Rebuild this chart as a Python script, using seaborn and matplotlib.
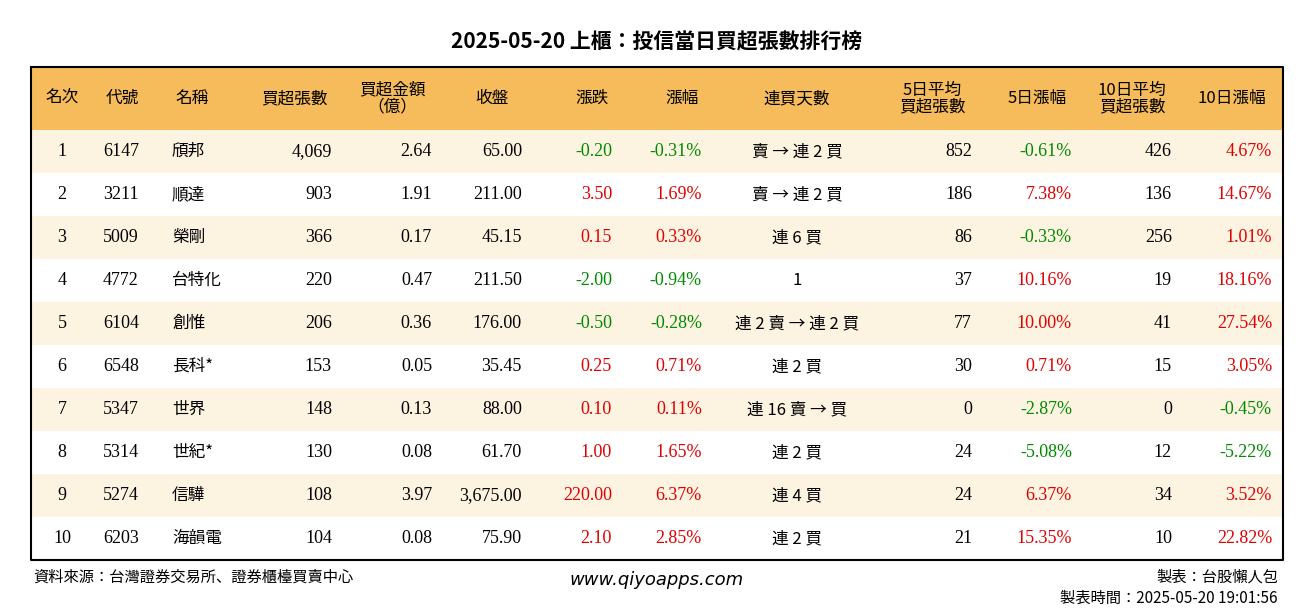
import matplotlib
matplotlib.use("Agg")
import matplotlib.pyplot as plt
import seaborn as sns
import pandas as pd

rank = [1,2,3,4,5,6,7,8,9,10]
code = ["6147","3211","5009","4772","6104","6548","5347","5314","5274","6203"]
name = ["頎邦","順達","榮剛","台特化","創惟","長科*","世界","世紀*","信驊","海韻電"]
net_lots = [4069,903,366,220,206,153,148,130,108,104]
net_amt = [2.64,1.91,0.17,0.47,0.36,0.05,0.13,0.08,3.97,0.08]
close = [65.00,211.00,45.15,211.50,176.00,35.45,88.00,61.70,3675.00,75.90]
chg = [-0.20,3.50,0.15,-2.00,-0.50,0.25,0.10,1.00,220.00,2.10]
pct = [-0.31,1.69,0.33,-0.94,-0.28,0.71,0.11,1.65,6.37,2.85]
streak = ["賣 → 連 2 買","賣 → 連 2 買","連 6 買","1","連 2 賣 → 連 2 買","連 2 買","連 16 賣 → 買","連 2 買","連 4 買","連 2 買"]
avg5 = [852,186,86,37,77,30,0,24,24,21]
pct5 = [-0.61,7.38,-0.33,10.16,10.00,0.71,-2.87,-5.08,6.37,15.35]
avg10 = [426,136,256,19,41,15,0,12,34,10]
pct10 = [4.67,14.67,1.01,18.16,27.54,3.05,-0.45,-5.22,3.52,22.82]
headers = ["名次","代號","名稱","買超張數","買超金額\n（億）","收盤","漲跌","漲幅","連買天數","5日平均\n買超張數","5日漲幅","10日平均\n買超張數","10日漲幅"]

df = pd.DataFrame(dict(rank=rank, code=code, name=name))
sns.set_theme(style="white")
CJK = ["Noto Sans CJK TC", "Noto Sans CJK JP", "Noto Sans CJK SC", "DejaVu Sans"]
NUM = ["Liberation Serif", "Noto Sans CJK TC", "Noto Sans CJK JP"]
RED, GREEN = "#E00000", "#008A00"

fig = plt.figure(figsize=(13.14, 6.12), dpi=100)
ax = fig.add_axes([0, 0, 1, 1])
ax.set_xlim(0, 1314); ax.set_ylim(612, 0); ax.axis("off")

L, R, T, HB = 31, 1283, 67, 130
RH = 43
ax.fill_between([L, R], T, HB, color="#F6BC5C", lw=0)
for i in range(len(df)):
    y0 = HB + i*RH
    ax.fill_between([L, R], y0, y0+RH, color="#FDF3E1" if i % 2 == 0 else "white", lw=0)
bottom = HB + len(df)*RH
ax.plot([L, R, R, L, L], [T, T, bottom, bottom, T], color="black", lw=1.5)

ax.text(657, 42, "2025-05-20 上櫃：投信當日買超張數排行榜", ha="center", va="center",
        fontsize=15, fontfamily=CJK, fontweight="bold", color="black")

cols = [(62,"center"),(103,"left"),(172,"left"),(332,"right"),(432,"right"),(522,"right"),
        (612,"right"),(702,"right"),(797,"center"),(972,"right"),(1072,"right"),(1172,"right"),(1272,"right")]
hx = [62,122,192,294,392,492,592,682,797,932,1037,1132,1232]
for h, cx in zip(headers, hx):
    ax.text(cx, (T+HB)/2, h, ha="center", va="center", fontsize=12, fontfamily=CJK,
            linespacing=0.95, color="black")

def col(v):
    return RED if v > 0 else (GREEN if v < 0 else "black")

for i in range(len(df)):
    yc = HB + i*RH + RH/2
    vals = [(str(rank[i]),"black",NUM),(code[i],"black",NUM),(name[i],"black",CJK),
            (f"{net_lots[i]:,}","black",NUM),(f"{net_amt[i]:.2f}","black",NUM),
            (f"{close[i]:,.2f}","black",NUM),(f"{chg[i]:.2f}",col(chg[i]),NUM),
            (f"{pct[i]:.2f}%",col(pct[i]),NUM),(streak[i],"black",CJK),
            (f"{avg5[i]:,}","black",NUM),(f"{pct5[i]:.2f}%",col(pct5[i]),NUM),
            (f"{avg10[i]:,}","black",NUM),(f"{pct10[i]:.2f}%",col(pct10[i]),NUM)]
    for (x, ha), (t, c, f) in zip(cols, vals):
        ax.text(x, yc, t, ha=ha, va="center", fontsize=13 if f is NUM else 12,
                color=c, fontfamily=f)

ax.text(33, 577, "資料來源：台灣證券交易所、證券櫃檯買賣中心", ha="left", va="center",
        fontsize=11, fontfamily=CJK, color="black")
ax.text(657, 580, "www.qiyoapps.com", ha="center", va="center", fontsize=13,
        fontstyle="italic", fontfamily="DejaVu Sans", color="black")
ax.text(1278, 577, "製表：台股懶人包", ha="right", va="center", fontsize=11, fontfamily=CJK, color="black")
ax.text(1278, 598, "製表時間：2025-05-20 19:01:56", ha="right", va="center", fontsize=11, fontfamily=CJK, color="black")

fig.savefig("out.png", dpi=100)
